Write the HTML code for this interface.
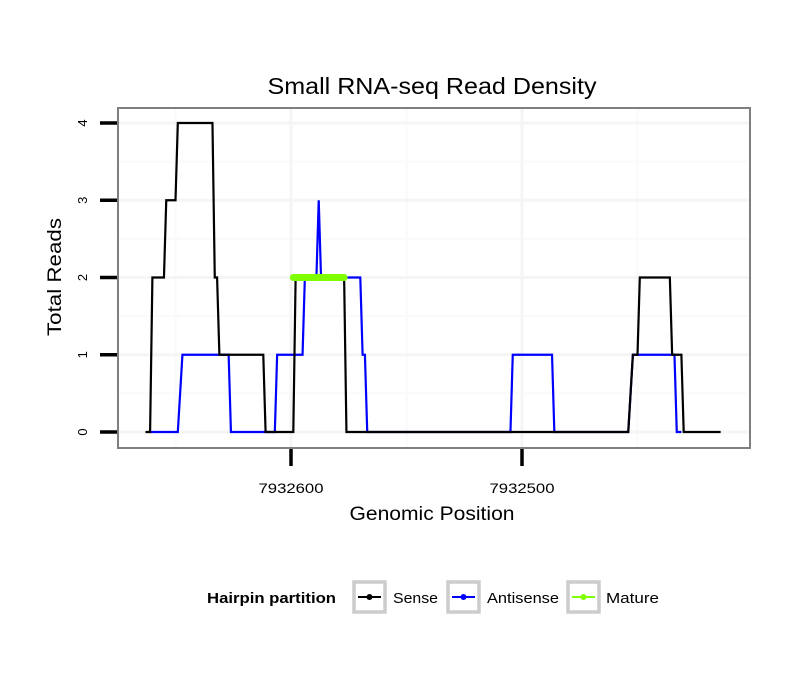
<!DOCTYPE html>
<html><head><meta charset="utf-8"><style>
body{margin:0;background:#fff;}
svg text{font-family:"Liberation Sans",sans-serif;}
</style></head><body>
<svg id="chart" width="810" height="690" xmlns="http://www.w3.org/2000/svg">
<rect width="810" height="690" fill="#fff"/>
<text x="432" y="94" font-size="23" text-anchor="middle" textLength="329" lengthAdjust="spacingAndGlyphs">Small RNA-seq Read Density</text>
<g id="grid"></g>
<g id="series"></g>
<rect x="118" y="108" width="632" height="340" fill="none" stroke="#7f7f7f" stroke-width="2"/>
<g id="axes"></g>
<text x="432" y="520" font-size="19" text-anchor="middle" textLength="165" lengthAdjust="spacingAndGlyphs">Genomic Position</text>
<text transform="translate(61,277) rotate(-90)" font-size="19" text-anchor="middle" textLength="118" lengthAdjust="spacingAndGlyphs">Total Reads</text>
<g>
<text x="207" y="603" font-size="15" font-weight="bold" textLength="129" lengthAdjust="spacingAndGlyphs">Hairpin partition</text>
<g>
<rect x="354" y="582" width="31" height="30" fill="#fff" stroke="#ccc" stroke-width="3.5"/>
<line x1="358" y1="597" x2="381" y2="597" stroke="#000" stroke-width="2"/><circle cx="369.5" cy="597" r="3" fill="#000"/>
<text x="393" y="603" font-size="15" textLength="45" lengthAdjust="spacingAndGlyphs">Sense</text></g>
<g>
<rect x="448" y="582" width="31" height="30" fill="#fff" stroke="#ccc" stroke-width="3.5"/>
<line x1="452" y1="597" x2="475" y2="597" stroke="#0000ff" stroke-width="2"/><circle cx="463.5" cy="597" r="3" fill="#0000ff"/>
<text x="487" y="603" font-size="15" textLength="72" lengthAdjust="spacingAndGlyphs">Antisense</text></g>
<g>
<rect x="568" y="582" width="31" height="30" fill="#fff" stroke="#ccc" stroke-width="3.5"/>
<line x1="572" y1="597" x2="595" y2="597" stroke="#7fff00" stroke-width="2"/><circle cx="583.5" cy="597" r="3" fill="#7fff00"/>
<text x="606" y="603" font-size="15" textLength="53" lengthAdjust="spacingAndGlyphs">Mature</text></g>
</g>
</svg>
<script>
const senseX=[7932663,7932661,7932660,7932655,7932654,7932650,7932649,7932634,7932633,7932632,7932631,7932612,7932611,7932599,7932598,7932577,7932576,7932454,7932452,7932450,7932449,7932436,7932435,7932431,7932430,7932414];
const senseY=[0,0,2,2,3,3,4,4,2,2,1,1,0,0,2,2,0,0,1,1,2,2,1,1,0,0];
const antiX=[7932661,7932649,7932647,7932627,7932626,7932607,7932606,7932595,7932594,7932589,7932588,7932587,7932570,7932569,7932568,7932567,7932505,7932504,7932487,7932486,7932454,7932452,7932434,7932433,7932431];
const antiY=[0,0,1,1,0,0,1,1,2,2,3,2,2,1,1,0,0,1,1,0,0,1,1,0,0];
const matureX=[7932599,7932577];
const matureY=[2,2];
const yTicks=[0,1,2,3,4];
const xTicks=[7932600,7932500];
const xTickLabels=["7932600","7932500"];

const NS="http://www.w3.org/2000/svg";
function X(p){return 291+(7932600-p)*2.31;}
function Y(v){return 432-v*77.25;}
function mk(tag,attrs,parent){const e=document.createElementNS(NS,tag);for(const k in attrs)e.setAttribute(k,attrs[k]);parent.appendChild(e);return e;}
const grid=document.getElementById('grid'),series=document.getElementById('series'),axes=document.getElementById('axes');
for(let i=0;i<yTicks.length-1;i++){const v=(yTicks[i]+yTicks[i+1])/2;
 const l=mk('line',{x1:118,x2:750,y1:Y(v),y2:Y(v),stroke:'#fafafa','stroke-width':2},grid);
 }
const step=xTicks[0]-xTicks[1];
[xTicks[0]+step/2,xTicks[0]-step/2,xTicks[1]-step/2].forEach(p=>{
 const l=mk('line',{x1:X(p),x2:X(p),y1:108,y2:448,stroke:'#fafafa','stroke-width':2},grid);
 });
yTicks.forEach(v=>{const l=mk('line',{x1:118,x2:750,y1:Y(v),y2:Y(v),stroke:'#f5f5f5','stroke-width':3},grid);
 });
xTicks.forEach(p=>{const l=mk('line',{x1:X(p),x2:X(p),y1:108,y2:448,stroke:'#f5f5f5','stroke-width':3},grid);
 });
function pts(xs,ys){return xs.map((p,i)=>X(p)+','+Y(ys[i])).join(' ');}
const a=mk('polyline',{points:pts(antiX,antiY),fill:'none',stroke:'#0000ff','stroke-width':2.2},series);

const s=mk('polyline',{points:pts(senseX,senseY),fill:'none',stroke:'#000','stroke-width':2.2},series);

const m=mk('polyline',{points:pts(matureX,matureY),fill:'none',stroke:'#7fff00','stroke-width':7,'stroke-linecap':'round'},series);

yTicks.forEach(v=>{const t=mk('line',{x1:100,x2:117,y1:Y(v),y2:Y(v),stroke:'#000','stroke-width':3.5},axes);
 
 const tx=mk('text',{transform:`translate(87,${Y(v)}) rotate(-90)`,'font-size':13,'text-anchor':'middle'},axes);tx.textContent=v;
 });
xTicks.forEach((p,i)=>{const t=mk('line',{x1:X(p),x2:X(p),y1:449,y2:466,stroke:'#000','stroke-width':3.5},axes);
 
 const tx=mk('text',{x:X(p),y:493,'font-size':14,'text-anchor':'middle',textLength:65,lengthAdjust:'spacingAndGlyphs'},axes);tx.textContent=xTickLabels[i];
 });
</script>
</body></html>
